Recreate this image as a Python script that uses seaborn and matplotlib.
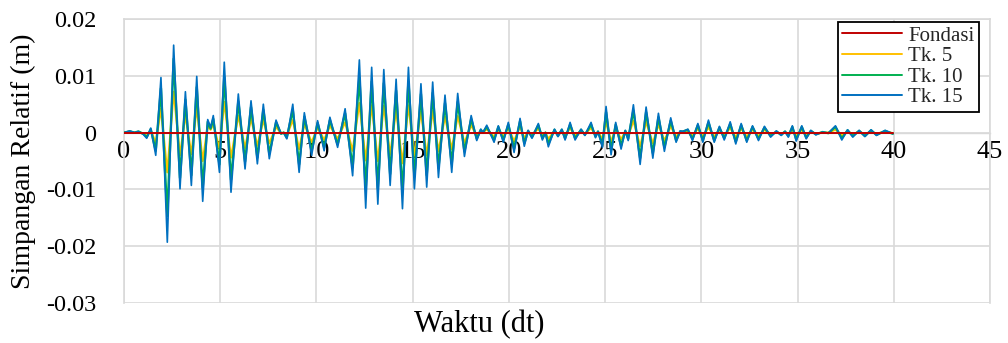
import matplotlib
matplotlib.use("Agg")
import matplotlib.pyplot as plt
import seaborn as sns
import pandas as pd

# ---------------- data ----------------
time = [
    0.0, 0.3, 0.55, 0.75, 1.0, 1.18, 1.39, 1.65,
    1.92, 2.25, 2.58, 2.91, 3.19, 3.5, 3.78, 4.09,
    4.35, 4.5, 4.64, 4.96, 5.21, 5.56, 5.94, 6.29,
    6.6, 6.93, 7.24, 7.55, 7.9, 8.16, 8.3, 8.46,
    8.77, 9.1, 9.37, 9.75, 10.06, 10.4, 10.7, 11.1,
    11.49, 11.88, 12.23, 12.56, 12.87, 13.19, 13.5, 13.83,
    14.14, 14.47, 14.78, 15.09, 15.43, 15.73, 16.04, 16.34,
    16.68, 17.03, 17.34, 17.69, 18.04, 18.33, 18.54, 18.65,
    18.85, 19.23, 19.45, 19.71, 19.97, 20.27, 20.58, 20.8,
    21.0, 21.2, 21.53, 21.74, 21.9, 22.05, 22.37, 22.55,
    22.75, 22.92, 23.18, 23.44, 23.75, 23.95, 24.27, 24.5,
    24.63, 24.86, 25.05, 25.31, 25.55, 25.83, 26.05, 26.2,
    26.47, 26.82, 27.13, 27.48, 27.77, 28.08, 28.41, 28.69,
    28.9, 29.05, 29.3, 29.54, 29.82, 30.08, 30.37, 30.67,
    30.94, 31.19, 31.5, 31.79, 32.07, 32.36, 32.66, 32.97,
    33.28, 33.6, 33.9, 34.15, 34.35, 34.52, 34.73, 34.93,
    35.22, 35.45, 35.69, 35.95, 36.3, 36.6, 36.97, 37.3,
    37.6, 37.87, 38.2, 38.5, 38.82, 39.1, 39.55, 39.95,
]

tk15 = [
    0.0, 0.0003, 0.0, 0.0002, -0.0003, -0.001, 0.0008, -0.004,
    0.0097, -0.0193, 0.0154, -0.0099, 0.0072, -0.0093, 0.0099, -0.0121,
    0.0023, 0.0009, 0.003, -0.007, 0.0124, -0.0105, 0.0068, -0.0064,
    0.0056, -0.0055, 0.005, -0.0046, 0.0022, -0.0002, 0.0, -0.0011,
    0.005, -0.007, 0.0035, -0.004, 0.0021, -0.0032, 0.0027, -0.0026,
    0.0042, -0.0076, 0.0128, -0.0133, 0.0115, -0.0126, 0.0111, -0.0093,
    0.0094, -0.0134, 0.0115, -0.0099, 0.0086, -0.0096, 0.0089, -0.0079,
    0.0066, -0.007, 0.0069, -0.0042, 0.003, -0.0014, 0.0006, 0.0,
    0.0013, -0.0017, 0.0012, -0.0017, 0.0018, -0.0035, 0.0025, -0.0024,
    0.0004, -0.001, 0.0016, -0.0013, 0.0, -0.0025, 0.0006, -0.0007,
    0.0006, -0.0013, 0.0018, -0.0013, 0.0006, -0.0005, 0.0018, -0.0009,
    0.0002, -0.0026, 0.0046, -0.0039, 0.0018, -0.0029, 0.0004, -0.0014,
    0.0049, -0.0056, 0.0045, -0.0045, 0.0034, -0.0033, 0.0026, -0.0017,
    0.0003, 0.0002, 0.0006, -0.0014, 0.0016, -0.0017, 0.0022, -0.0017,
    0.0011, -0.0013, 0.0019, -0.002, 0.0016, -0.0017, 0.0012, -0.0014,
    0.0011, -0.0008, 0.0003, -0.0005, 0.0002, -0.0008, 0.0012, -0.0015,
    0.0012, -0.0011, 0.0004, -0.0004, 0.0001, -0.0001, 0.0012, -0.0013,
    0.0005, -0.0008, 0.0004, -0.0007, 0.0005, -0.0005, 0.0004, -0.0002,
]

tk10 = [
    0.0, 0.0002, 0.0, 0.0002, -0.0002, -0.0008, 0.0006, -0.0032,
    0.0078, -0.0147, 0.013, -0.008, 0.0058, -0.0075, 0.008, -0.0097,
    0.0019, 0.0007, 0.0024, -0.0056, 0.0098, -0.0083, 0.0055, -0.0051,
    0.0045, -0.0044, 0.004, -0.0037, 0.0018, -0.0002, 0.0, -0.0009,
    0.004, -0.0056, 0.0028, -0.0032, 0.0017, -0.0026, 0.0022, -0.0021,
    0.0034, -0.0061, 0.0097, -0.0099, 0.009, -0.0098, 0.0087, -0.0073,
    0.0074, -0.0104, 0.009, -0.0077, 0.0068, -0.0075, 0.007, -0.0062,
    0.0052, -0.0055, 0.0054, -0.0033, 0.0024, -0.0011, 0.0005, 0.0,
    0.001, -0.0013, 0.001, -0.0013, 0.0014, -0.0028, 0.002, -0.0019,
    0.0003, -0.0008, 0.0013, -0.001, 0.0, -0.002, 0.0005, -0.0006,
    0.0005, -0.001, 0.0014, -0.001, 0.0005, -0.0004, 0.0014, -0.0007,
    0.0002, -0.0021, 0.0036, -0.0031, 0.0014, -0.0023, 0.0003, -0.0011,
    0.0039, -0.0045, 0.0036, -0.0036, 0.0027, -0.0026, 0.0021, -0.0014,
    0.0002, 0.0002, 0.0005, -0.0011, 0.0013, -0.0014, 0.0018, -0.0014,
    0.0009, -0.001, 0.0015, -0.0016, 0.0013, -0.0014, 0.001, -0.0011,
    0.0009, -0.0006, 0.0002, -0.0004, 0.0002, -0.0006, 0.001, -0.0012,
    0.001, -0.0009, 0.0003, -0.0003, 0.0001, -0.0001, 0.001, -0.001,
    0.0004, -0.0006, 0.0003, -0.0006, 0.0004, -0.0004, 0.0003, -0.0002,
]

tk5 = [
    0.0, 0.0002, 0.0, 0.0001, -0.0002, -0.0006, 0.0004, -0.0018,
    0.0042, -0.007, 0.0072, -0.004, 0.0031, -0.0038, 0.0044, -0.005,
    0.0012, 0.0005, 0.0015, -0.0029, 0.0054, -0.0044, 0.003, -0.0027,
    0.0025, -0.0023, 0.0022, -0.0019, 0.001, -0.0001, 0.0, -0.0005,
    0.0022, -0.0029, 0.0015, -0.0017, 0.0009, -0.0013, 0.0012, -0.0011,
    0.0018, -0.0032, 0.0052, -0.0049, 0.0048, -0.005, 0.0047, -0.0039,
    0.004, -0.0054, 0.0048, -0.0041, 0.0037, -0.004, 0.0038, -0.0033,
    0.0028, -0.0029, 0.0029, -0.0018, 0.0013, -0.0006, 0.0003, 0.0,
    0.0006, -0.0007, 0.0005, -0.0007, 0.0008, -0.0015, 0.0011, -0.001,
    0.0002, -0.0004, 0.0007, -0.0005, 0.0, -0.0011, 0.0003, -0.0003,
    0.0003, -0.0005, 0.0008, -0.0005, 0.0003, -0.0002, 0.0008, -0.0004,
    0.0001, -0.0011, 0.0019, -0.0016, 0.0008, -0.0012, 0.0002, -0.0006,
    0.0021, -0.0024, 0.0019, -0.0019, 0.0014, -0.0014, 0.0011, -0.0007,
    0.0001, 0.0001, 0.0003, -0.0006, 0.0007, -0.0007, 0.0009, -0.0007,
    0.0005, -0.0005, 0.0008, -0.0008, 0.0007, -0.0007, 0.0005, -0.0006,
    0.0005, -0.0003, 0.0001, -0.0002, 0.0001, -0.0003, 0.0005, -0.0006,
    0.0005, -0.0005, 0.0002, -0.0002, 0.0, 0.0, 0.0005, -0.0005,
    0.0002, -0.0003, 0.0002, -0.0003, 0.0002, -0.0002, 0.0002, -0.0001,
]

fondasi_time = [0.0, 39.95]
fondasi = [0.0, 0.0]

series_names = ["Fondasi", "Tk. 5", "Tk. 10", "Tk. 15"]
series_colors = ["#C00000", "#FFC000", "#00B050", "#0070C0"]

x_ticks = [0, 5, 10, 15, 20, 25, 30, 35, 40, 45]
y_ticks = [-0.03, -0.02, -0.01, 0.0, 0.01, 0.02]
y_tick_labels = ["-0.03", "-0.02", "-0.01", "0", "0.01", "0.02"]

# ---------------- plot ----------------
sns.set_theme(style="white")
plt.rcParams["font.family"] = ["Liberation Serif", "DejaVu Serif"]

W, H = 1008, 343
fig = plt.figure(figsize=(W / 100, H / 100), dpi=100)
ax = fig.add_axes([124 / W, 1 - 303 / H, 866 / W, 284 / H])

frames = [
    (pd.DataFrame({"t": fondasi_time, "v": fondasi}), 0),
    (pd.DataFrame({"t": time, "v": tk5}), 1),
    (pd.DataFrame({"t": time, "v": tk10}), 2),
    (pd.DataFrame({"t": time, "v": tk15}), 3),
]
zorders = [6, 3, 4, 5]
widths = [1.4, 1.5, 1.7, 1.2]
for df, i in frames:
    sns.lineplot(data=df, x="t", y="v", ax=ax, sort=False, color=series_colors[i],
                 linewidth=widths[i], label=series_names[i], zorder=zorders[i])
for line in ax.get_lines():
    line.set_solid_joinstyle("round")

ax.set_xlim(0, 45)
ax.set_ylim(-0.03, 0.02)
ax.set_xticks(x_ticks)
ax.set_xticklabels([str(v) for v in x_ticks])
ax.set_yticks(y_ticks)
ax.set_yticklabels(y_tick_labels)

grid_c = "#d9d9d9"
ax.grid(True, color=grid_c, linewidth=1.2)
ax.set_axisbelow(True)
for s in ["left", "right", "top"]:
    ax.spines[s].set_visible(True)
    ax.spines[s].set_color(grid_c)
    ax.spines[s].set_linewidth(1.2)
ax.spines["bottom"].set_position(("data", 0))
ax.spines["bottom"].set_color(grid_c)
ax.spines["bottom"].set_linewidth(1.0)

ax.tick_params(axis="x", length=0, pad=6, labelsize=19, colors="black")
ax.tick_params(axis="y", length=0, pad=20, labelsize=17.5, colors="black")

ax.set_xlabel("Waktu (dt)", fontsize=22, color="black")
ax.set_ylabel("Simpangan Relatif (m)", fontsize=20, color="black")
ax.xaxis.set_label_coords(0.41, -0.025)
ax.yaxis.set_label_coords(-0.102, 0.5)

leg = ax.legend(loc="upper left", bbox_to_anchor=(0.824, 0.99), frameon=True,
                fancybox=False, fontsize=15, handlelength=2.9, handletextpad=0.3,
                borderpad=0.2, labelspacing=0.05, borderaxespad=0)
leg.get_frame().set_edgecolor("black")
leg.get_frame().set_linewidth(1.3)
leg.get_frame().set_facecolor("white")
leg.get_frame().set_alpha(1)
leg.set_zorder(10)
for line in leg.get_lines():
    line.set_linewidth(1.4)

fig.savefig("out.png", dpi=100)
